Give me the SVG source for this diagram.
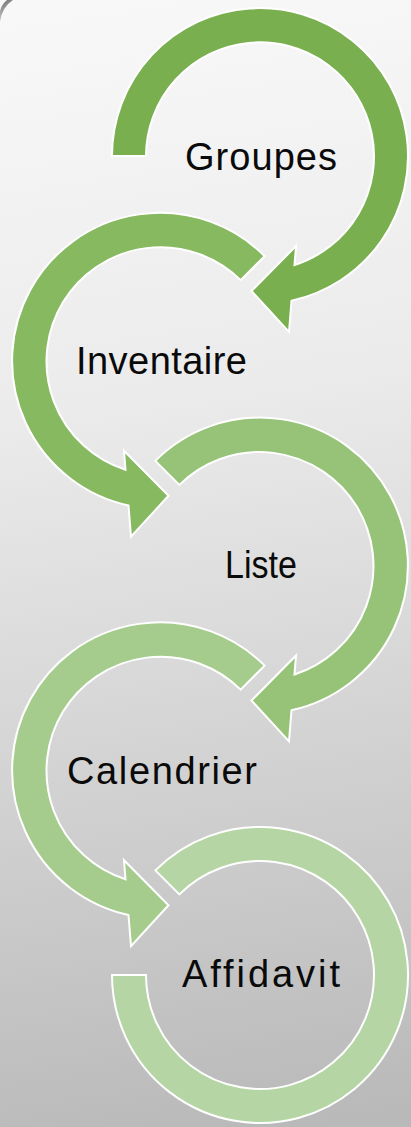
<svg xmlns="http://www.w3.org/2000/svg" xmlns:xlink="http://www.w3.org/1999/xlink" width="411" height="1127" viewBox="0 0 411 1127">
  <defs>
    <linearGradient id="bg" gradientUnits="userSpaceOnUse" x1="120" y1="0" x2="290" y2="1127">
      <stop offset="0" stop-color="#F8F8F8"/>
      <stop offset="0.35" stop-color="#EBEBEB"/>
      <stop offset="1" stop-color="#B9B9B9"/>
    </linearGradient>
    <linearGradient id="corner" gradientUnits="userSpaceOnUse" x1="0" y1="0" x2="14" y2="22">
      <stop offset="0" stop-color="#555555" stop-opacity="0.9"/>
      <stop offset="1" stop-color="#555555" stop-opacity="0"/>
    </linearGradient>
    <path id="arrowStart180" d="M -148 0 A 148 148 0 1 1 31.5 144.7 L 29 176 L -8.5 135 L 36 90 L 34.5 109 A 114 114 0 1 0 -114 0 Z"/>
    <path id="arrowStart225" d="M -104.65 -104.65 A 148 148 0 1 1 31.5 144.7 L 29 176 L -8.5 135 L 36 90 L 34.5 109 A 114 114 0 1 0 -80.61 -80.61 Z"/>
    <path id="arcEnd" d="M -104.65 -104.65 A 148 148 0 1 1 -148 0 L -114 0 A 114 114 0 1 0 -80.61 -80.61 Z"/>
  </defs>
  <style>
    .shape { stroke: #FFFFFF; stroke-width: 2; stroke-linejoin: miter; }
    .label { font-family: "Liberation Sans", Arial, sans-serif; font-size: 38px; fill: #0A0A0A; }
  </style>
  <rect x="0" y="0" width="411" height="1127" fill="url(#bg)"/>
  <path d="M 0 22 Q 2 7 13 0 L 7 0 Q 1 5 0 12 Z" fill="url(#corner)"/>

  <g id="connectors"/>

  <g id="node-groupes">
    <use xlink:href="#arrowStart180" href="#arrowStart180" class="shape" fill="#7AAF4F" transform="translate(260,156)"/>
    <text class="label" x="185" y="170" textLength="152" lengthAdjust="spacing">Groupes</text>
  </g>

  <g id="node-inventaire">
    <use xlink:href="#arrowStart225" href="#arrowStart225" class="shape" fill="#87B961" transform="translate(160,360.75) scale(-1,1)"/>
    <text class="label" x="76" y="374" textLength="171" lengthAdjust="spacing">Inventaire</text>
  </g>

  <g id="node-liste">
    <use xlink:href="#arrowStart225" href="#arrowStart225" class="shape" fill="#97C378" transform="translate(260,565.5)"/>
    <text class="label" x="225" y="578" textLength="72" lengthAdjust="spacingAndGlyphs">Liste</text>
  </g>

  <g id="node-calendrier">
    <use xlink:href="#arrowStart225" href="#arrowStart225" class="shape" fill="#A6CC8D" transform="translate(160,770.25) scale(-1,1)"/>
    <text class="label" x="67" y="784" textLength="190" lengthAdjust="spacing">Calendrier</text>
  </g>

  <g id="node-affidavit">
    <use xlink:href="#arcEnd" href="#arcEnd" class="shape" fill="#B5D6A4" transform="translate(260,975)"/>
    <text class="label" x="182" y="987" textLength="158" lengthAdjust="spacing">Affidavit</text>
  </g>
</svg>
